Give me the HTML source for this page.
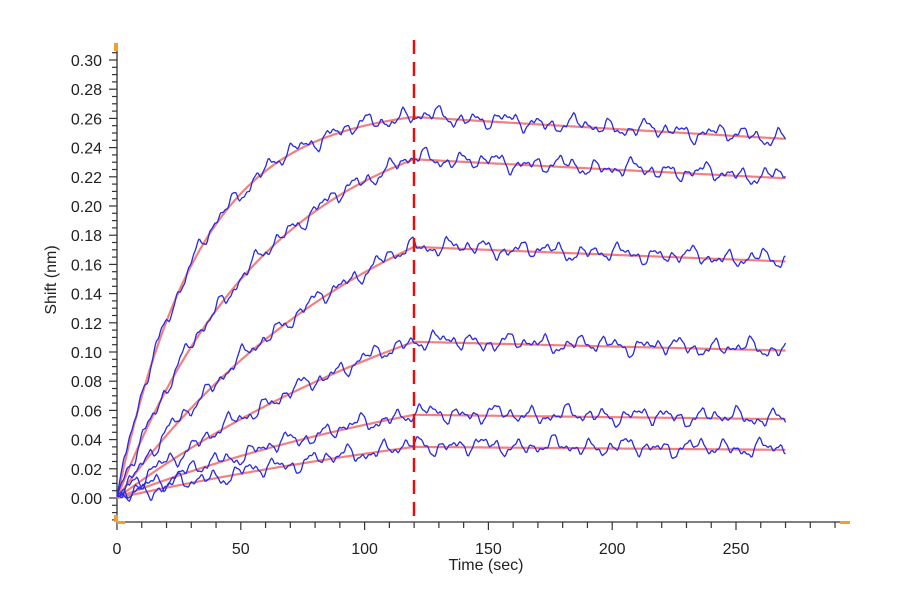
<!DOCTYPE html>
<html><head><meta charset="utf-8"><style>
body{margin:0;background:#fff}
svg{display:block;font-family:"Liberation Sans",Arial,sans-serif}
</style></head><body>
<svg id="s" width="900" height="600" xmlns="http://www.w3.org/2000/svg"></svg>
<script>
const s=document.getElementById('s');
const X=t=>117+t*2.476, Y=v=>498-v*1460;
let h='';
h+='<line x1="117" y1="43" x2="117" y2="522" stroke="#333" stroke-width="1.3"/>';
for(let i=-3;i<=61;i++){const v=i*0.005;const y=Y(v);if(y<44)continue;
 const major=i%4==0;h+=`<line x1="${major?109:112}" y1="${y}" x2="117" y2="${y}" stroke="#333" stroke-width="1.2"/>`;
 if(major&&i>=0)h+=`<text x="102" y="${y+6}" font-size="16" text-anchor="end" fill="#222">${(v).toFixed(2)}</text>`;}
h+='<line x1="117" y1="522" x2="845" y2="522" stroke="#333" stroke-width="1.3"/>';
for(let t=0;t<=290;t+=10){const x=X(t);const major=t%50==0;
 h+=`<line x1="${x}" y1="522" x2="${x}" y2="${major?530:528}" stroke="#333" stroke-width="1.2"/>`;
 if(major)h+=`<text x="${x}" y="554" font-size="16" text-anchor="middle" fill="#222">${t}</text>`;}
h+='<rect x="114" y="43" width="4" height="8" fill="#f0a030"/><rect x="114" y="515" width="4" height="7" fill="#f0a030"/><rect x="117" y="521" width="8" height="3" fill="#f0a030"/><rect x="840" y="521" width="10" height="3" fill="#f0a030"/>';
h+='<text x="486" y="570" font-size="16" text-anchor="middle" fill="#222">Time (sec)</text>';
h+='<text transform="translate(56,280) rotate(-90)" font-size="16" text-anchor="middle" fill="#222">Shift (nm)</text>';
const C=[[0.261,0.246,0.030],[0.232,0.219,0.016],[0.172,0.162,0.009],[0.107,0.101,0.006],[0.057,0.054,0.006],[0.035,0.033,0.004]];
let red='',blue='';
C.forEach((c,ci)=>{const [a,e,k]=c;const R=a/(1-Math.exp(-k*120));const kd=Math.log(a/e)/150;
 const f=t=>t<=120?R*(1-Math.exp(-k*t)):a*Math.exp(-kd*(t-120));
 let p='',q='';
 for(let t=0;t<=270;t+=0.5){const v=f(t);p+=(t?'L':'M')+X(t).toFixed(1)+' '+Y(v).toFixed(1);
  const n=0.003*Math.sin(t*0.45+ci*2)+0.0025*Math.sin(t*0.83+ci*5)+0.0018*Math.sin(t*1.37+ci)+0.0008*Math.sin(t*2.9+ci*3)+0.0015*Math.sin(t*0.21+ci*1.7);
  q+=(t?'L':'M')+X(t).toFixed(1)+' '+Y(v+0.001+n*(t<3?t/3:1)).toFixed(1);}
 red+=`<path d="${p}" fill="none" stroke="#f28080" stroke-width="2.2"/>`;
 blue+=`<path d="${q}" fill="none" stroke="#2a2ae0" stroke-width="1.3"/>`;});
h+=red+blue;
h+=`<line x1="414" y1="40" x2="414" y2="522" stroke="#e01010" stroke-width="2.5" stroke-dasharray="14,8"/>`;
s.innerHTML=h;
</script>
</body></html>
